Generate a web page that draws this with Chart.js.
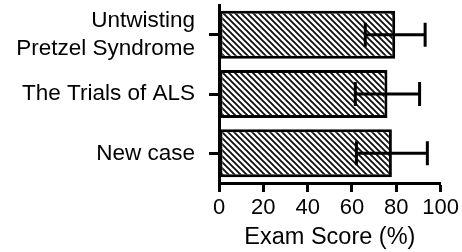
<!DOCTYPE html>
<html>
<head>
<meta charset="utf-8">
<script src="https://cdn.jsdelivr.net/npm/chart.js@4"></script>
<style>
  body { margin: 0; background: #fff; }
</style>
</head>
<body>
<canvas id="myChart" width="462" height="252"></canvas>
<script>
// data
const categories = [["Untwisting", "Pretzel Syndrome"], "The Trials of ALS", "New case"];
const scores = [79.5, 76, 78];
const errors = [13.5, 14.5, 16];
const xTicks = [0, 20, 40, 60, 80, 100];
const xTitle = "Exam Score (%)";

// diagonal hatch fill
function hatch() {
  const c = document.createElement("canvas");
  c.width = 6;
  c.height = 6;
  const g = c.getContext("2d");
  g.fillStyle = "#fff";
  g.fillRect(0, 0, 6, 6);
  g.strokeStyle = "#111";
  g.lineWidth = 1.9;
  g.beginPath();
  g.moveTo(-1, -1); g.lineTo(7, 7);
  g.moveTo(-4, 2); g.lineTo(4, 10);
  g.moveTo(2, -4); g.lineTo(10, 4);
  g.stroke();
  return g.createPattern(c, "repeat");
}

const errorBars = {
  id: "errorBars",
  afterDatasetsDraw(chart) {
    const ctx = chart.ctx;
    const xs = chart.scales.x;
    const meta = chart.getDatasetMeta(0);
    ctx.save();
    ctx.strokeStyle = "#000";
    ctx.lineWidth = 3;
    meta.data.forEach((bar, i) => {
      const lo = xs.getPixelForValue(scores[i] - errors[i]);
      const hi = xs.getPixelForValue(scores[i] + errors[i]);
      const y = bar.y;
      const h = 12;
      ctx.beginPath();
      ctx.moveTo(lo, y); ctx.lineTo(hi, y);
      ctx.moveTo(lo, y - h); ctx.lineTo(lo, y + h);
      ctx.moveTo(hi, y - h); ctx.lineTo(hi, y + h);
      ctx.stroke();
    });
    ctx.restore();
  }
};

const family = "'Liberation Sans', Arial, sans-serif";

new Chart(document.getElementById("myChart"), {
  type: "bar",
  data: {
    labels: categories,
    datasets: [
      {
        data: scores,
        backgroundColor: hatch(),
        borderColor: "#000",
        borderWidth: 3,
        borderSkipped: false,
        categoryPercentage: 1,
        barPercentage: 0.81,
      },
    ],
  },
  options: {
    indexAxis: "y",
    responsive: false,
    animation: false,
    devicePixelRatio: 1,
    layout: { padding: { top: 5, right: 21, bottom: 0, left: 0 } },
    plugins: { legend: { display: false }, tooltip: { enabled: false } },
    scales: {
      x: {
        min: 0,
        max: 100,
        afterBuildTicks: (s) => { s.ticks = xTicks.map((v) => ({ value: v })); },
        afterFit: (s) => { s.height = 69; },
        ticks: { color: "#000", font: { family: family, size: 22 }, padding: 3, maxRotation: 0 },
        grid: { drawOnChartArea: false, tickLength: 9, tickWidth: 3, tickColor: "#000" },
        border: { display: true, width: 3, color: "#000" },
        title: { display: true, text: xTitle, color: "#000", font: { family: family, size: 23.5 }, padding: { top: 0, bottom: 0 } },
      },
      y: {
        afterFit: (s) => { s.width = 219; s.paddingTop = 0; s.paddingBottom = 0; },
        ticks: { color: "#000", font: { family: family, size: 22.5, lineHeight: 1.22 }, padding: 14 },
        grid: { offset: false, drawOnChartArea: false, tickLength: 10, tickWidth: 3, tickColor: "#000" },
        border: { display: true, width: 3, color: "#000" },
      },
    },
  },
  plugins: [errorBars],
});
</script>
</body>
</html>
